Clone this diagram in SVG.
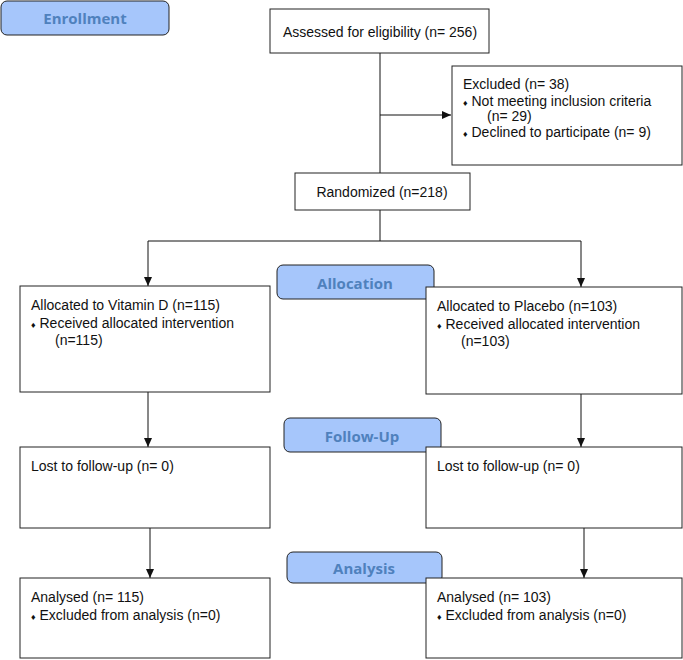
<svg xmlns="http://www.w3.org/2000/svg" width="683" height="660" viewBox="0 0 683 660">
<style>
.box{fill:#fff;stroke:#222;stroke-width:1}
.lab{fill:#a6c6fb;stroke:#222;stroke-width:1}
.t{font-family:"Liberation Sans",Arial,sans-serif;font-size:14px;fill:#111}
.lt{font-family:"Open Sans","Liberation Sans",sans-serif;font-weight:bold;font-size:15px;fill:#4f81bd;text-anchor:middle}
.b{font-size:9px}
.ln{stroke:#111;stroke-width:1;fill:none}
</style>
<defs>
<marker id="ah" markerWidth="10" markerHeight="10" refX="9" refY="5" orient="auto" markerUnits="userSpaceOnUse">
<path d="M0,1 L9,5 L0,9 z" fill="#111"/>
</marker>
</defs>
<rect width="683" height="660" fill="#fff"/>
<g id="connectors">
<line class="ln" x1="380" y1="53" x2="380" y2="173"/>
<line class="ln" x1="380" y1="115" x2="451" y2="115" marker-end="url(#ah)"/>
<line class="ln" x1="380" y1="210" x2="380" y2="241"/>
<line class="ln" x1="148" y1="241" x2="581" y2="241"/>
<line class="ln" x1="148" y1="241" x2="148" y2="286" marker-end="url(#ah)"/>
<line class="ln" x1="581" y1="241" x2="581" y2="287" marker-end="url(#ah)"/>
<line class="ln" x1="148" y1="392" x2="148" y2="447" marker-end="url(#ah)"/>
<line class="ln" x1="581" y1="394" x2="581" y2="447" marker-end="url(#ah)"/>
<line class="ln" x1="150" y1="528" x2="150" y2="578" marker-end="url(#ah)"/>
<line class="ln" x1="584" y1="528" x2="584" y2="578" marker-end="url(#ah)"/>
</g>
<g id="enrollment">
<rect class="lab" x="1" y="1" width="168" height="34" rx="6"/>
<text class="lt" x="85" y="24">Enrollment</text>
</g>
<g id="assessed">
<rect class="box" x="270" y="9" width="219" height="44"/>
<text class="t" x="380" y="37" text-anchor="middle">Assessed for eligibility (n= 256)</text>
</g>
<g id="excluded">
<rect class="box" x="452" y="66" width="230" height="99"/>
<text class="t" x="463" y="89">Excluded (n= 38)</text>
<text class="t" x="463" y="106"><tspan class="b">♦</tspan> Not meeting inclusion criteria</text>
<text class="t" x="487" y="121">(n= 29)</text>
<text class="t" x="463" y="137"><tspan class="b">♦</tspan> Declined to participate (n= 9)</text>
</g>
<g id="randomized">
<rect class="box" x="295" y="173" width="175" height="37"/>
<text class="t" x="382" y="197" text-anchor="middle">Randomized (n=218)</text>
</g>
<g id="allocation">
<rect class="lab" x="277" y="265" width="157" height="34" rx="6"/>
<text class="lt" x="355" y="289">Allocation</text>
</g>
<g id="alloc-vitd">
<rect class="box" x="20" y="286" width="250" height="106"/>
<text class="t" x="31" y="310">Allocated to Vitamin D (n=115)</text>
<text class="t" x="31" y="328"><tspan class="b">♦</tspan> Received allocated intervention</text>
<text class="t" x="55" y="345">(n=115)</text>
</g>
<g id="alloc-placebo">
<rect class="box" x="426" y="287" width="256" height="107"/>
<text class="t" x="437" y="311">Allocated to Placebo (n=103)</text>
<text class="t" x="437" y="329"><tspan class="b">♦</tspan> Received allocated intervention</text>
<text class="t" x="461" y="346">(n=103)</text>
</g>
<g id="followup">
<rect class="lab" x="284" y="418" width="157" height="34" rx="6"/>
<text class="lt" x="362" y="442">Follow-Up</text>
</g>
<g id="lost-vitd">
<rect class="box" x="20" y="447" width="250" height="81"/>
<text class="t" x="31" y="471">Lost to follow-up (n= 0)</text>
</g>
<g id="lost-placebo">
<rect class="box" x="426" y="447" width="256" height="81"/>
<text class="t" x="437" y="471">Lost to follow-up (n= 0)</text>
</g>
<g id="analysis">
<rect class="lab" x="287" y="552" width="155" height="31" rx="6"/>
<text class="lt" x="364" y="574">Analysis</text>
</g>
<g id="analysed-vitd">
<rect class="box" x="20" y="578" width="250" height="80"/>
<text class="t" x="31" y="602">Analysed (n= 115)</text>
<text class="t" x="31" y="620"><tspan class="b">♦</tspan> Excluded from analysis (n=0)</text>
</g>
<g id="analysed-placebo">
<rect class="box" x="426" y="578" width="256" height="80"/>
<text class="t" x="437" y="602">Analysed (n= 103)</text>
<text class="t" x="437" y="620"><tspan class="b">♦</tspan> Excluded from analysis (n=0)</text>
</g>
</svg>
